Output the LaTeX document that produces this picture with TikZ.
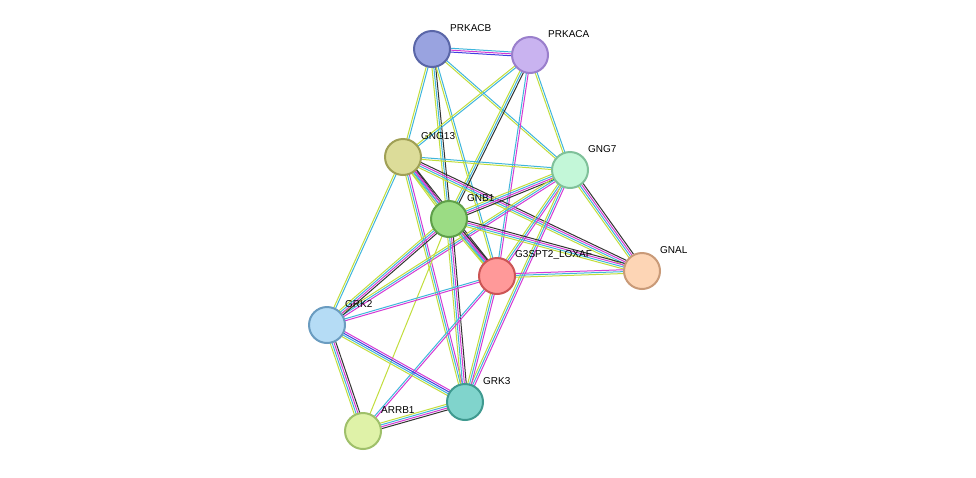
\documentclass[tikz,border=0pt]{standalone}
\usepackage{fontspec}
\setmainfont{Liberation Sans}
\usetikzlibrary{calc}
\definecolor{tm}{HTML}{C2DE3C}
\definecolor{db}{HTML}{3FB6DC}
\definecolor{ex}{HTML}{D43AD4}
\definecolor{co}{HTML}{333333}
\definecolor{ho}{HTML}{4040E0}
\definecolor{fA}{HTML}{99A3E0}\definecolor{dA}{HTML}{5A66A8}
\definecolor{fB}{HTML}{C9B3F0}\definecolor{dB}{HTML}{9A7FCC}
\definecolor{fC}{HTML}{DCDC99}\definecolor{dC}{HTML}{A0A055}
\definecolor{fD}{HTML}{C3F7D8}\definecolor{dD}{HTML}{7FC19A}
\definecolor{fE}{HTML}{9BDC84}\definecolor{dE}{HTML}{5FA04A}
\definecolor{fF}{HTML}{FF9999}\definecolor{dF}{HTML}{CC5555}
\definecolor{fG}{HTML}{FDD5B5}\definecolor{dG}{HTML}{C99A78}
\definecolor{fH}{HTML}{B5DCF5}\definecolor{dH}{HTML}{6A9CC0}
\definecolor{fI}{HTML}{80D4CC}\definecolor{dI}{HTML}{3F9A90}
\definecolor{fJ}{HTML}{DFF2A8}\definecolor{dJ}{HTML}{9FC06A}
\tikzset{
  prot/.style={circle,minimum size=36pt,inner sep=0pt,line width=2pt},
  lab/.style={font=\fontsize{10}{12}\selectfont,anchor=west,inner sep=1pt},
  lnk/.style={line width=1pt}
}
\newcommand{\edg}[4]{%
  \foreach \c [count=\i] in {#4}{%
    \pgfmathsetmacro{\off}{(\i-1-(#3-1)/2)*1.9}%
    \draw[lnk,\c] ($(#1)!\off pt!90:(#2)$) -- ($(#2)!\off pt!-90:(#1)$);
  }}
\newcommand{\prot}[5]{%
  \node[prot,fill=#3,draw=#4] (n#1) at (#2) {};
  \node[lab] (l#1) at ($(#2)+(17,-21)$) {#5};}
\begin{document}
\begin{tikzpicture}[x=1pt,y=-1pt]
\useasboundingbox[fill=white] (0,0) rectangle (976,477);
\coordinate (PRKACB) at (432,49);
\coordinate (PRKACA) at (530,55);
\coordinate (GNG13) at (403,157);
\coordinate (GNG7) at (570,170);
\coordinate (GNB1) at (449,219);
\coordinate (G3) at (497,276);
\coordinate (GNAL) at (642,271);
\coordinate (GRK2) at (327,325);
\coordinate (GRK3) at (465,402);
\coordinate (ARRB1) at (363,431);
\edg{PRKACB}{PRKACA}{3}{ho,ex,db}
\edg{PRKACB}{GNG13}{2}{tm,db}
\edg{PRKACB}{GNB1}{3}{tm,db,co}
\edg{PRKACB}{G3}{2}{tm,db}
\edg{PRKACB}{GNG7}{2}{tm,db}
\edg{PRKACA}{GNG13}{2}{tm,db}
\edg{PRKACA}{GNB1}{3}{tm,db,co}
\edg{PRKACA}{G3}{2}{db,ex}
\edg{PRKACA}{GNG7}{2}{tm,db}
\edg{GNG13}{GNG7}{2}{tm,db}
\edg{GNG13}{GNB1}{4}{tm,db,ex,co}
\edg{GNG13}{G3}{4}{tm,db,ex,co}
\edg{GNG13}{GNAL}{4}{tm,db,ex,co}
\edg{GNG13}{GRK2}{2}{tm,db}
\edg{GNG13}{GRK3}{3}{tm,db,ex}
\edg{GNG7}{GNB1}{4}{tm,db,ex,co}
\edg{GNG7}{G3}{3}{tm,db,ex}
\edg{GNG7}{GNAL}{4}{tm,db,ex,co}
\edg{GNG7}{GRK2}{3}{tm,db,ex}
\edg{GNG7}{GRK3}{3}{tm,db,ex}
\edg{GNB1}{G3}{4}{tm,db,ex,co}
\edg{GNB1}{GNAL}{4}{tm,db,ex,co}
\edg{GNB1}{GRK2}{4}{tm,db,ex,co}
\edg{GNB1}{GRK3}{4}{tm,db,ex,co}
\edg{GNB1}{ARRB1}{1}{tm}
\edg{G3}{GNAL}{3}{tm,db,ex}
\edg{G3}{GRK2}{2}{db,ex}
\edg{G3}{GRK3}{3}{tm,db,ex}
\edg{G3}{ARRB1}{2}{db,ex}
\edg{GRK2}{GRK3}{4}{tm,db,ho,ex}
\edg{GRK2}{ARRB1}{4}{tm,db,ex,co}
\edg{GRK3}{ARRB1}{4}{tm,db,ex,co}
\prot{PRKACB}{PRKACB}{fA}{dA}{PRKACB}
\prot{PRKACA}{PRKACA}{fB}{dB}{PRKACA}
\prot{GNG13}{GNG13}{fC}{dC}{GNG13}
\prot{GNG7}{GNG7}{fD}{dD}{GNG7}
\prot{GNB1}{GNB1}{fE}{dE}{GNB1}
\prot{G3}{G3}{fF}{dF}{G3SPT2\_LOXAF}
\prot{GNAL}{GNAL}{fG}{dG}{GNAL}
\prot{GRK2}{GRK2}{fH}{dH}{GRK2}
\prot{GRK3}{GRK3}{fI}{dI}{GRK3}
\prot{ARRB1}{ARRB1}{fJ}{dJ}{ARRB1}
\end{tikzpicture}
\end{document}
